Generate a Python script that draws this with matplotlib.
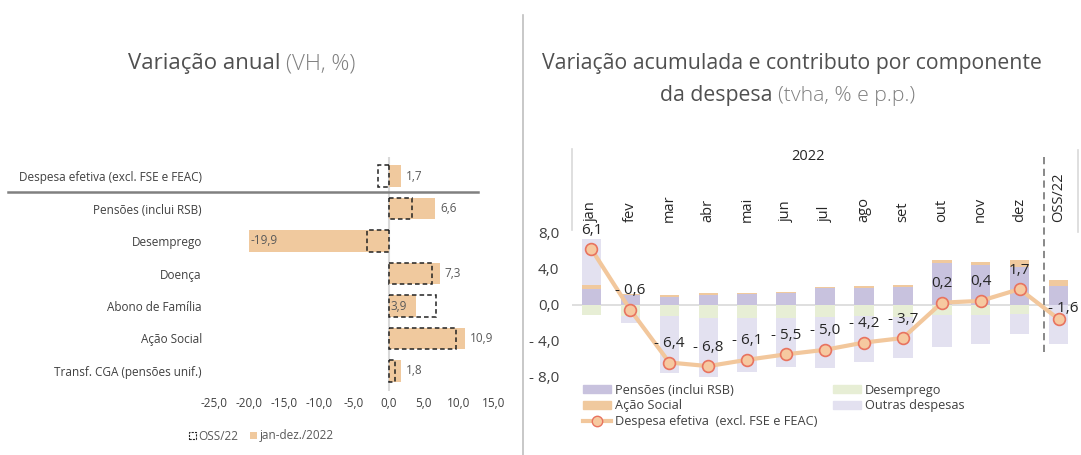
import numpy as np
import matplotlib
matplotlib.use("Agg")
import matplotlib.pyplot as plt
from matplotlib.patches import Patch
from matplotlib.lines import Line2D
import matplotlib.transforms as mtransforms

plt.rcParams['font.family'] = ['Open Sans', 'DejaVu Sans']

# ---- dados: variação anual ----
categorias = ['Despesa efetiva (excl. FSE e FEAC)', 'Pensões (inclui RSB)', 'Desemprego',
              'Doença', 'Abono de Família', 'Ação Social', 'Transf. CGA (pensões unif.)']
jan_dez_2022 = [1.7, 6.6, -19.9, 7.3, 3.9, 10.9, 1.8]
oss_22 = [-1.6, 3.3, -3.1, 6.2, 6.8, 9.6, 0.9]

# ---- dados: variação acumulada e contributos ----
meses = ['jan', 'fev', 'mar', 'abr', 'mai', 'jun', 'jul', 'ago', 'set', 'out', 'nov', 'dez', 'OSS/22']
pensoes = [1.67, 1.1, 0.8, 1.1, 1.19, 1.22, 1.85, 1.85, 1.89, 4.63, 4.4, 4.19, 2.04]
desemprego = [-1.15, -1.26, -1.3, -1.45, -1.48, -1.48, -1.41, -1.26, -1.33, -1.19, -1.15, -1.04, 0.0]
acao_social = [0.48, 0.05, 0.25, 0.16, 0.07, 0.15, 0.11, 0.19, 0.26, 0.26, 0.3, 0.77, 0.66]
outras = [5.1, -0.74, -6.3, -6.6, -5.92, -5.37, -5.59, -5.04, -4.52, -3.51, -3.22, -2.22, -4.37]
despesa_efetiva = [6.1, -0.6, -6.4, -6.8, -6.1, -5.5, -5.0, -4.2, -3.7, 0.2, 0.4, 1.7, -1.6]

TAN = '#F0C99E'
ROXO = '#C8C2DE'
VERDE = '#E7EED5'
LILAS = '#E3E1F0'
CINZA_TXT = '#595959'

W, H = 1081, 455
fig = plt.figure(figsize=(W / 100, H / 100), dpi=100)


def fx(px):
    return px / W


def fy(py):
    return 1 - py / H


# ================= painel esquerdo =================
ax1 = fig.add_axes([fx(213.7), fy(390.5), fx(280), 234 / H])
y = np.arange(len(categorias))
ax1.barh(y, jan_dez_2022, height=0.65, color=TAN, zorder=2)
ax1.barh(y, oss_22, height=0.65, facecolor='none', edgecolor='#222222',
         linestyle=(0, (3, 2)), linewidth=1.1, zorder=3)
ax1.axvline(0, color='#D9D9D9', lw=1.5, zorder=1)
ax1.set_xlim(-25, 15)
ax1.set_ylim(6.6, -0.6)
ax1.set_yticks(y)
ax1.set_yticklabels(categorias, fontsize=8.5, color='#404040')
ax1.set_xticks(np.arange(-25, 16, 5))
ax1.set_xticklabels([f'{v:.1f}'.replace('.', ',') for v in np.arange(-25, 16, 5)],
                    fontsize=8.5, color='#404040')
ax1.tick_params(length=0, axis='y', pad=8.5)
ax1.tick_params(length=0, axis='x', pad=5)
for s in ax1.spines.values():
    s.set_visible(False)

for i, v in enumerate(jan_dez_2022):
    txt = f'{v:.1f}'.replace('.', ',')
    if v < 0:
        ax1.text(v + 0.2, i, txt, va='center', ha='left', fontsize=8.5, color=CINZA_TXT)
    elif categorias[i] == 'Abono de Família':
        ax1.text(0.2, i, txt, va='center', ha='left', fontsize=8.5, color=CINZA_TXT, zorder=4)
    else:
        ax1.annotate(txt, (v, i), xytext=(5, 0), textcoords='offset pixels',
                     va='center', ha='left', fontsize=8.5, color=CINZA_TXT)

fig.add_artist(Line2D([fx(8), fx(478)], [fy(191.7), fy(191.7)], color='#808080', lw=1.8))

leg1 = fig.legend(handles=[Patch(facecolor='none', edgecolor='#222222', linestyle=(0, (2, 1)), lw=0.8),
                           Patch(facecolor=TAN)],
                  labels=['OSS/22', 'jan-dez./2022'], loc='center', ncol=2,
                  bbox_to_anchor=(fx(261), fy(436)), frameon=False, fontsize=8.5,
                  handlelength=0.6, handleheight=0.6, handletextpad=0.2, columnspacing=1.0)
for t in leg1.get_texts():
    t.set_color(CINZA_TXT)

fig.text(fx(280), fy(64), 'Variação anual', fontsize=16, color='#505050', ha='right', va='center')
fig.text(fx(286), fy(64), '(VH, %)', fontsize=16, color='#7F7F7F', ha='left', va='center',
         fontweight='light')

# separador
fig.add_artist(Line2D([fx(523), fx(523)], [fy(15), fy(455)], color='#BFBFBF', lw=1.2))

# ================= painel direito =================
ax2 = fig.add_axes([fx(572), fy(377), fx(506), 145 / H])
x = np.arange(len(meses))
series = [(pensoes, ROXO), (desemprego, VERDE), (acao_social, TAN), (outras, LILAS)]
pos = np.zeros(len(meses))
neg = np.zeros(len(meses))
for vals, cor in series:
    vals = np.array(vals)
    base = np.where(vals >= 0, pos, neg)
    ax2.bar(x, vals, bottom=base, width=0.5, color=cor, zorder=2)
    pos = np.where(vals >= 0, pos + vals, pos)
    neg = np.where(vals < 0, neg + vals, neg)

ax2.axhline(0, color='#D9D9D9', lw=1.2, zorder=1)
ax2.plot(x, despesa_efetiva, color='#F2C79C', lw=3, marker='o', ms=8.5,
         markerfacecolor='#F6C9A0', markeredgecolor='#E8735F', markeredgewidth=1.2, zorder=4)


def fmt(v):
    s = f'{abs(v):.1f}'.replace('.', ',')
    return ('- ' + s) if v < 0 else s


for i, v in enumerate(despesa_efetiva):
    off = (5, 10) if meses[i] == 'OSS/22' else (0, 19)
    ax2.annotate(fmt(v), (i, v), xytext=off, textcoords='offset pixels', ha='center',
                 va='center', fontsize=11, color='#262626', zorder=5)

ax2.set_xlim(-0.5, 12.5)
ax2.set_ylim(-8, 8)
ax2.set_yticks([8, 4, 0, -4, -8])
ax2.set_yticklabels([fmt(v) for v in [8, 4, 0, -4, -8]], fontsize=11, color='#404040')
ax2.set_xticks([])
ax2.tick_params(length=0, axis='y', pad=9)
for s in ax2.spines.values():
    s.set_visible(False)

trans = mtransforms.blended_transform_factory(ax2.transData, fig.transFigure)
for i, m in enumerate(meses):
    ax2.text(i, fy(222), m, rotation=90, ha='center', va='bottom', fontsize=10.5,
             color='#262626', transform=trans)
ax2.add_artist(Line2D([11.62, 11.62], [fy(157), fy(353)], transform=trans, color='#7F7F7F',
                      lw=1.3, linestyle=(0, (4, 2.5)), clip_on=False))
fig.text(fx(808), fy(157), '2022', fontsize=10.5, color='#262626', ha='center', va='center')
fig.add_artist(Line2D([fx(572), fx(572)], [fy(149), fy(230)], color='#D9D9D9', lw=1.2))
fig.add_artist(Line2D([fx(1078), fx(1078)], [fy(150), fy(232)], color='#D9D9D9', lw=1.2))

handles = [Patch(color=ROXO), Patch(color=TAN),
           Line2D([], [], color='#F2C79C', lw=3, marker='o', ms=7.5, markerfacecolor='#F6C9A0',
                  markeredgecolor='#E8735F'),
           Patch(color=VERDE), Patch(color=LILAS)]
labels = ['Pensões (inclui RSB)', 'Ação Social', 'Despesa efetiva  (excl. FSE e FEAC)',
          'Desemprego', 'Outras despesas']
leg2 = fig.legend(handles=handles, labels=labels, ncol=2, loc='upper left',
                  bbox_to_anchor=(fx(574), fy(375)), frameon=False, fontsize=9.2,
                  handlelength=2.2, handleheight=0.6, handletextpad=0.3, columnspacing=1.2,
                  labelspacing=0.2, borderpad=0.2)
for t in leg2.get_texts():
    t.set_color('#404040')

fig.text(fx(792), fy(64), 'Variação acumulada e contributo por componente', fontsize=15.3,
         color='#505050', ha='center', va='center')
fig.text(fx(773), fy(96), 'da despesa', fontsize=15.3, color='#505050', ha='right', va='center')
fig.text(fx(778), fy(96), '(tvha, % e p.p.)', fontsize=15.3, color='#7F7F7F', ha='left',
         va='center', fontweight='light')

fig.savefig('out.png', dpi=100)
